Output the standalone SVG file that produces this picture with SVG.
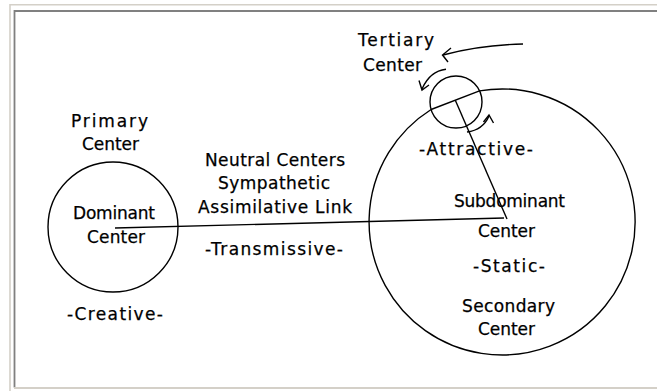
<svg xmlns="http://www.w3.org/2000/svg" width="657" height="391" viewBox="0 0 657 391">
<style>
.ln{fill:none;stroke:#000;stroke-width:1.4}
text{font-family:"DejaVu Sans","Liberation Sans",sans-serif;font-size:17px;fill:#000;stroke:#000;stroke-width:0.25}
</style>
<rect width="657" height="391" fill="#fff"/>
<g id="frame" fill="none">
<path d="M10,391 V4.7 H657" stroke="#d4d0c8" stroke-width="1.6"/>
<path d="M14.5,387.5 V11 H657" stroke="#808080" stroke-width="1.8"/>
<path d="M14,388 H657" stroke="#d4d0c8" stroke-width="1.8"/>
</g>
<g id="connectors">
<path class="ln" d="M115,228 L504,218"/>
<path class="ln" d="M455.3,100.2 L507,219"/>
<path class="ln" d="M523,44 Q480,45 443,55"/>
<path class="ln" d="M451,48 L442.5,55 L448,62"/>
<path class="ln" d="M446,69.3 Q430,71 422,89"/>
<path class="ln" d="M419,80.5 L422,90 L429,85"/>
<path class="ln" d="M467,132 Q483,130 489,116"/>
<path class="ln" d="M483.5,122 L489,115 L493.5,123"/>
</g>
<g id="primary">
<circle class="ln" cx="113" cy="227" r="65"/>
<text x="71" y="127" textLength="77" lengthAdjust="spacing">Primary</text>
<text x="82" y="150" textLength="57" lengthAdjust="spacing">Center</text>
<text x="73" y="219" textLength="82" lengthAdjust="spacing">Dominant</text>
<text x="87" y="243" textLength="58" lengthAdjust="spacing">Center</text>
<text x="67" y="320" textLength="96" lengthAdjust="spacing">-Creative-</text>
</g>
<g id="link-labels">
<text x="205" y="166" textLength="140" lengthAdjust="spacing">Neutral Centers</text>
<text x="218" y="189" textLength="112" lengthAdjust="spacing">Sympathetic</text>
<text x="198" y="213" textLength="154" lengthAdjust="spacing">Assimilative Link</text>
<text x="205" y="255" textLength="138" lengthAdjust="spacing">-Transmissive-</text>
</g>
<g id="secondary">
<path class="ln" d="M479.5,90.9 A133,133 0 1 1 431.1,109.5"/>
<path class="ln" d="M431.1,109.5 L479.5,90.9"/>
<text x="419" y="155" textLength="114" lengthAdjust="spacing">-Attractive-</text>
<text x="454" y="207" textLength="111" lengthAdjust="spacing">Subdominant</text>
<text x="478" y="237" textLength="57" lengthAdjust="spacing">Center</text>
<text x="473" y="272" textLength="72" lengthAdjust="spacing">-Static-</text>
<text x="462" y="312" textLength="93" lengthAdjust="spacing">Secondary</text>
<text x="478" y="335" textLength="57" lengthAdjust="spacing">Center</text>
</g>
<g id="tertiary">
<circle class="ln" cx="456" cy="102" r="26"/>
<text x="358" y="46" textLength="76" lengthAdjust="spacing">Tertiary</text>
<text x="363" y="71" textLength="59" lengthAdjust="spacing">Center</text>
</g>
</svg>
